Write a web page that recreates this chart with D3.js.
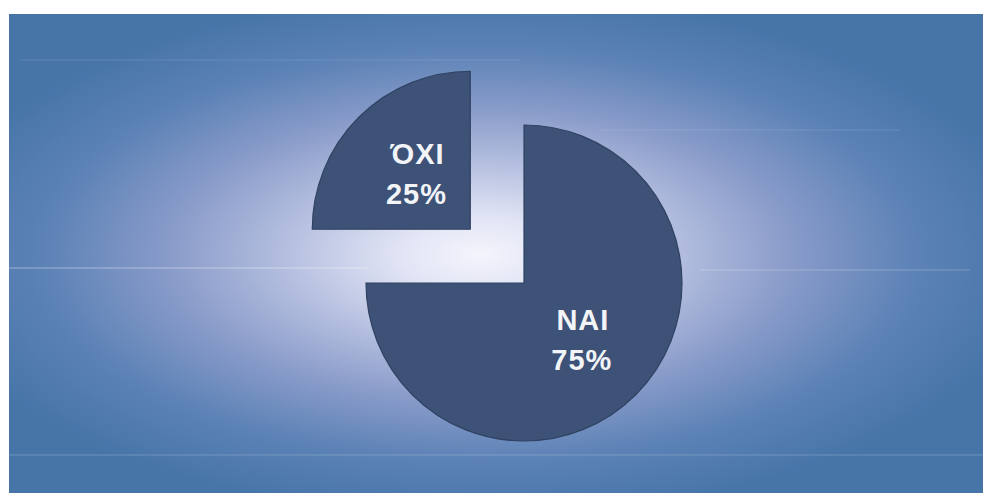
<!DOCTYPE html>
<html>
<head>
<meta charset="utf-8">
<script src="https://cdn.jsdelivr.net/npm/d3@7/dist/d3.min.js"></script>
<style>
  html, body { margin: 0; padding: 0; background: #ffffff; }
  svg { display: block; }
</style>
</head>
<body>
<script>
const categories = ["NAI", "ΌΧΙ"];
const values = [75, 25];
const labels = ["75%", "25%"];
const exploded = [false, true];

const W = 983, H = 493;
const svg = d3.select("body").append("svg").attr("width", W).attr("height", H);
const defs = svg.append("defs");

// background gradient
const g = defs.append("radialGradient")
  .attr("id", "bg")
  .attr("gradientUnits", "userSpaceOnUse")
  .attr("cx", 480).attr("cy", 255).attr("r", 560)
  .attr("gradientTransform", "translate(480,255) scale(1,0.47) translate(-480,-255)");
[[0, "#f4f4fc"], [0.14, "#e2e5f5"], [0.34, "#b6c0e0"], [0.55, "#8a9cca"], [0.78, "#5c82b6"], [1, "#4775a8"]]
  .forEach(([o, c]) => g.append("stop").attr("offset", o).attr("stop-color", c));

svg.append("rect").attr("x", 9).attr("y", 14).attr("width", W - 9).attr("height", H - 14)
  .attr("fill", "url(#bg)");

// faint horizontal streaks
const streaks = [[20, 60, 500, 0.06], [9, 268, 360, 0.2], [700, 270, 270, 0.12], [9, 455, 974, 0.1], [600, 130, 300, 0.06]];
svg.selectAll("line.streak").data(streaks).enter().append("line")
  .attr("x1", d => d[0]).attr("x2", d => d[0] + d[2])
  .attr("y1", d => d[1]).attr("y2", d => d[1])
  .attr("stroke", "#ffffff").attr("stroke-width", 2).attr("stroke-opacity", d => d[3]);

const cx = 524, cy = 283, r = 158, explode = 76;

const pie = d3.pie().sort(null).value(d => d.value).startAngle(0).endAngle(2 * Math.PI);
const data = categories.map((c, i) => ({ name: c, value: values[i], label: labels[i], ex: exploded[i] }));
const arcs = pie(data);
const arc = d3.arc().innerRadius(0).outerRadius(r);
const labelArc = d3.arc().innerRadius(0).outerRadius(r);

const root = svg.append("g").attr("transform", `translate(${cx},${cy})`);

const slice = root.selectAll("g.slice").data(arcs).enter().append("g")
  .attr("class", "slice")
  .attr("transform", d => {
    if (!d.data.ex) return null;
    const a = (d.startAngle + d.endAngle) / 2;
    return `translate(${Math.sin(a) * explode},${-Math.cos(a) * explode})`;
  });

slice.append("path").attr("d", arc)
  .attr("fill", "#3d5276")
  .attr("stroke", "#2f4262").attr("stroke-width", 1.2);

slice.each(function (d) {
  const [x, y] = labelArc.centroid(d);
  const t = d3.select(this).append("text")
    .attr("text-anchor", "middle")
    .attr("font-family", "'Liberation Sans', Arial, sans-serif")
    .attr("font-weight", "bold")
    .attr("font-size", 29)
    .attr("letter-spacing", 1)
    .attr("fill", "#f2f4f8");
  t.append("tspan").attr("x", x + 3).attr("y", y - 9).text(d.data.name);
  t.append("tspan").attr("x", x + 2).attr("y", y + 31).text(d.data.label);
});
</script>
</body>
</html>
